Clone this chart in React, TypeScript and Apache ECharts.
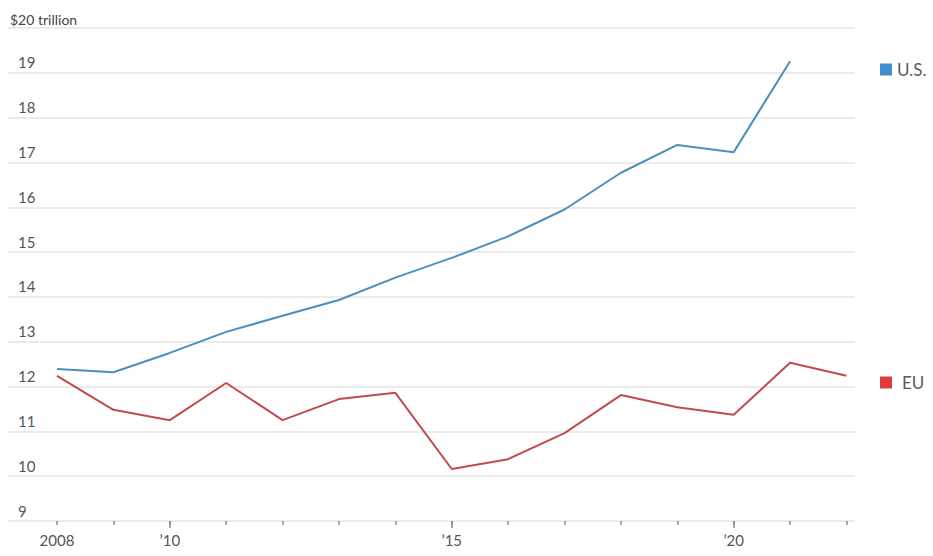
import React, { useEffect, useRef } from "react";
import * as echarts from "echarts";

const usYears = [2008, 2009, 2010, 2011, 2012, 2013, 2014, 2015, 2016, 2017, 2018, 2019, 2020, 2021];
const usValues = [12.39, 12.32, 12.75, 13.22, 13.58, 13.93, 14.43, 14.87, 15.35, 15.95, 16.77, 17.39, 17.23, 19.26];
const euYears = [2008, 2009, 2010, 2011, 2012, 2013, 2014, 2015, 2016, 2017, 2018, 2019, 2020, 2021, 2022];
const euValues = [12.24, 11.48, 11.25, 12.08, 11.25, 11.72, 11.86, 10.16, 10.38, 10.96, 11.81, 11.54, 11.37, 12.53, 12.24];
const tickYears = [2008, 2009, 2010, 2011, 2012, 2013, 2014, 2015, 2016, 2017, 2018, 2019, 2020, 2021, 2022];
const labelYears = [2008, 2010, 2015, 2020];

const FONT = "Lato, 'Open Sans', sans-serif";

export default function App() {
  const ref = useRef<HTMLDivElement>(null);
  useEffect(() => {
    if (!ref.current) return;
    const chart = echarts.init(ref.current, undefined, { renderer: "svg" });
    const xMin = 2007.131;
    const xMax = 2022.151;
    chart.setOption({
      animation: false,
      backgroundColor: "#ffffff",
      textStyle: { fontFamily: FONT },
      grid: { left: 8, right: 78, top: 28, bottom: 35 },
      legend: [
        {
          data: ["U.S."],
          left: 875,
          top: 56,
          icon: "rect",
          itemWidth: 12,
          itemHeight: 12,
          selectedMode: false,
          textStyle: { fontSize: 17, color: "#5a5a5a", fontFamily: FONT },
        },
        {
          data: ["EU"],
          left: 875,
          top: 369,
          icon: "rect",
          itemWidth: 12,
          itemHeight: 12,
          selectedMode: false,
          textStyle: { fontSize: 17, color: "#5a5a5a", fontFamily: FONT, padding: [0, 0, 0, 5] },
        },
      ],
      xAxis: [
        {
          type: "value",
          min: xMin,
          max: xMax,
          splitLine: { show: false },
          axisLine: { show: false },
          axisTick: {
            show: true,
            customValues: tickYears,
            length: 4,
            lineStyle: { color: "#888", width: 1.5 },
          },
          axisLabel: {
            customValues: labelYears,
            margin: 11,
            fontSize: 15,
            color: "#555",
            fontFamily: FONT,
            formatter: (v: number) => (v === 2008 ? "2008" : "\u2019" + String(v).slice(2)),
          },
        },
        {
          type: "value",
          min: xMin,
          max: xMax,
          position: "bottom",
          splitLine: { show: false },
          axisLine: { show: false },
          axisTick: {
            show: true,
            customValues: [2010, 2015, 2020],
            length: 7,
            lineStyle: { color: "#888", width: 1.5 },
          },
          axisLabel: { show: false },
        },
      ],
      yAxis: {
        type: "value",
        min: 9,
        max: 20,
        interval: 1,
        axisLine: { show: false },
        axisTick: { show: false },
        splitLine: { lineStyle: { color: "#e4e4e4", width: 1.5 } },
        axisLabel: {
          inside: true,
          align: "left",
          verticalAlign: "bottom",
          margin: 2,
          formatter: (v: number) => (v === 20 ? "{t|$20 trillion}" : "{n|" + v + "}"),
          rich: {
            t: { fontSize: 14, color: "#444", fontFamily: FONT, padding: [0, 0, 2, 0] },
            n: { fontSize: 15, color: "#555", fontFamily: FONT, padding: [0, 0, 3, 8] },
          },
        },
      },
      series: [
        {
          name: "U.S.",
          type: "line",
          symbol: "none",
          color: "#3d8fcf",
          lineStyle: { color: "#4a8fc0", width: 2 },
          data: usYears.map((y, i) => [y, usValues[i]]),
        },
        {
          name: "EU",
          type: "line",
          symbol: "none",
          color: "#df3b3b",
          lineStyle: { color: "#c24a4c", width: 2 },
          data: euYears.map((y, i) => [y, euValues[i]]),
        },
      ],
    });
    return () => chart.dispose();
  }, []);
  return (
    <div
      ref={ref}
      style={{ position: "fixed", left: 0, top: 0, width: 933, height: 556 }}
    />
  );
}
